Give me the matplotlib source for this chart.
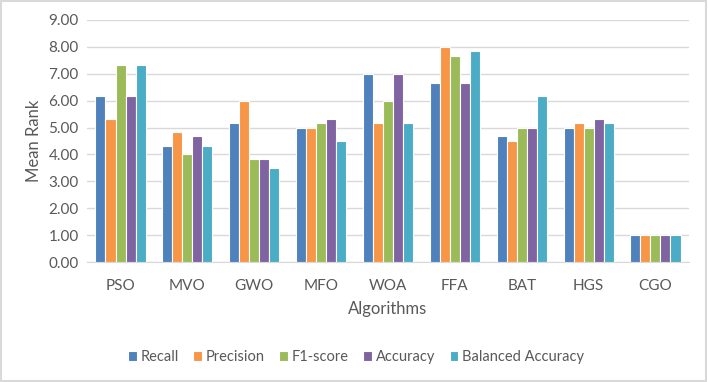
import numpy as np
import matplotlib.pyplot as plt
from matplotlib.patches import Rectangle

# -----------------------------
# Data (mean rank per algorithm)
# -----------------------------
algorithms = ["PSO", "MVO", "GWO", "MFO", "WOA", "FFA", "BAT", "HGS", "CGO"]

recall = [6.17, 4.33, 5.17, 5.00, 7.00, 6.67, 4.67, 5.00, 1.00]
precision = [5.33, 4.83, 6.00, 5.00, 5.17, 8.00, 4.50, 5.17, 1.00]
f1_score = [7.33, 4.00, 3.83, 5.17, 6.00, 7.67, 5.00, 5.00, 1.00]
accuracy = [6.17, 4.67, 3.83, 5.33, 7.00, 6.67, 5.00, 5.33, 1.00]
balanced_accuracy = [7.33, 4.33, 3.50, 4.50, 5.17, 7.83, 6.17, 5.17, 1.00]

series = [
    ("Recall", recall, "#4F81BD"),
    ("Precision", precision, "#F79646"),
    ("F1-score", f1_score, "#9BBB59"),
    ("Accuracy", accuracy, "#8064A2"),
    ("Balanced Accuracy", balanced_accuracy, "#4BACC6"),
]

plt.rcParams["font.family"] = ["Lato", "DejaVu Sans"]
text_color = "#595959"

fig = plt.figure(figsize=(7.08, 3.82), dpi=100)
ax = fig.add_axes([0.123, 0.314, 0.850, 0.634])

x = np.arange(len(algorithms))
width = 0.15
for i, (name, values, color) in enumerate(series):
    offset = (i - 2) * width
    ax.bar(x + offset, values, width, color=color, edgecolor="white",
           linewidth=0.8, label=name, zorder=3)

ax.set_xlim(-0.5, len(algorithms) - 0.5)
ax.set_ylim(0, 9)
ax.set_yticks(np.arange(0, 10, 1))
ax.set_yticklabels([f"{v:.2f}" for v in range(10)])
ax.set_xticks(x)
ax.set_xticklabels(algorithms)

ax.grid(axis="y", color="#D9D9D9", linewidth=1, zorder=0)
for side in ["top", "right", "left"]:
    ax.spines[side].set_visible(False)
ax.spines["bottom"].set_color("#D9D9D9")
ax.tick_params(length=0, colors=text_color, labelsize=11)
ax.tick_params(axis="x", pad=12)
ax.tick_params(axis="y", pad=6)

ax.set_xlabel("Algorithms", fontsize=12, color=text_color, labelpad=6)
ax.set_ylabel("Mean Rank", fontsize=12, color=text_color, labelpad=5)

ax.legend(loc="upper center", bbox_to_anchor=(0.447, -0.31), ncol=5,
          frameon=False, fontsize=10.5, handlelength=0.6, handleheight=0.6,
          handletextpad=0.25, columnspacing=1.0, labelcolor=text_color)

# chart area border
fig.patches.append(Rectangle((0.002, 0.003), 0.995, 0.994, transform=fig.transFigure,
                             fill=False, edgecolor="#D9D9D9", linewidth=1.5))

plt.savefig("out.png", dpi=100)
plt.close()
